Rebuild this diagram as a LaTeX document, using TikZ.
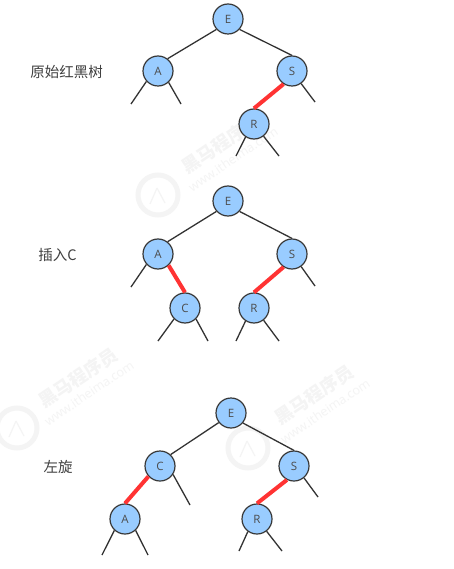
\documentclass[tikz,border=0pt]{standalone}
\usepackage{fontspec}
\newfontfamily\cjk{Noto Sans CJK SC}
\setmainfont{Open Sans}
\definecolor{nodeblue}{HTML}{99CCFF}
\definecolor{edgered}{HTML}{FF3333}
\definecolor{wm}{HTML}{F4F4F4}
\tikzset{
  tn/.style={circle,draw=black!78,line width=1.2pt,fill=nodeblue,minimum size=30pt,inner sep=0pt,font=\fontsize{11.5}{11.5}\selectfont,text=black!70},
  blk/.style={draw=black!80,line width=1.3pt},
  redge/.style={draw=edgered,line width=4pt},
  lbl/.style={font=\cjk\fontsize{14.5}{15}\selectfont,text=black!75,inner sep=0pt},
  wmtext/.style={font=\cjk\bfseries\fontsize{18}{18}\selectfont,text=wm,rotate=34,inner sep=0pt},
  wmurl/.style={font=\fontsize{12.5}{12.5}\selectfont,text=wm,rotate=34,inner sep=0pt},
  wmseal/.style={draw=wm,line width=5pt,circle,minimum size=40pt,inner sep=0pt},
  wmline/.style={draw=wm,line width=1.2pt}
}
\begin{document}
\begin{tikzpicture}[x=1pt,y=-1pt]
\useasboundingbox (0,0) rectangle (453,569);
\fill[white] (0,0) rectangle (453,569);
% watermarks
\node[wmseal] (s1) at (158,195) {};
\draw[wmline] (s1.center) ++(-1,-7) -- ++(-7,16) (s1.center) ++(-1,-7) -- ++(8,15);
\node[wmtext] (w1) at (221,144) {黑马程序员};
\node[wmurl] (u1) at (233,159) {www.itheima.com};
\node[wmseal] (s2) at (17,428) {};
\draw[wmline] (s2.center) ++(-1,-7) -- ++(-7,16) (s2.center) ++(-1,-7) -- ++(8,15);
\node[wmtext] (w2) at (78,378) {黑马程序员};
\node[wmurl] (u2) at (89,393) {www.itheima.com};
\node[wmseal] (s3) at (248,448) {};
\draw[wmline] (s3.center) ++(-1,-7) -- ++(-7,16) (s3.center) ++(-1,-7) -- ++(8,15);
\node[wmtext] (w3) at (314,395) {黑马程序员};
\node[wmurl] (u3) at (325,411) {www.itheima.com};
% tree 1
\node[tn] (e1) at (228,19) {E};
\node[tn] (a1) at (158,71) {A};
\node[tn] (s1n) at (292,71) {S};
\node[tn] (r1) at (254,124) {R};
\coordinate (l1a) at (131,104); \coordinate (l1b) at (181,104);
\coordinate (l1c) at (315,102); \coordinate (l1d) at (236,156); \coordinate (l1e) at (279,156);
\draw[blk] (e1.222) -- (a1.52); \draw[blk] (e1.318) -- (s1n.north);
\draw[redge] (s1n.237) -- (r1.north);
\draw[blk] (a1.222) -- (l1a); \draw[blk] (a1.313) -- (l1b); \draw[blk] (s1n.306) -- (l1c);
\draw[blk] (r1.237) -- (l1d); \draw[blk] (r1.308) -- (l1e);
\node[lbl] (t1) at (66.5,72) {原始红黑树};
% tree 2
\node[tn] (e2) at (228,201) {E};
\node[tn] (a2) at (158,254) {A};
\node[tn] (s2n) at (292,254) {S};
\node[tn] (c2) at (185,308) {C};
\node[tn] (r2) at (254,308) {R};
\coordinate (l2a) at (131,287); \coordinate (l2c) at (315,286);
\coordinate (l2d) at (158,341); \coordinate (l2e) at (208,341);
\coordinate (l2f) at (236,341); \coordinate (l2g) at (279,341);
\draw[blk] (e2.222) -- (a2.52); \draw[blk] (e2.318) -- (s2n.north);
\draw[redge] (a2.313) -- (c2.north); \draw[redge] (s2n.237) -- (r2.north);
\draw[blk] (a2.222) -- (l2a); \draw[blk] (s2n.306) -- (l2c);
\draw[blk] (c2.225) -- (l2d); \draw[blk] (c2.315) -- (l2e);
\draw[blk] (r2.237) -- (l2f); \draw[blk] (r2.308) -- (l2g);
\node[lbl] (t2) at (57.5,255) {插入C};
% tree 3
\node[tn] (e3) at (231,413) {E};
\node[tn] (c3) at (160,466) {C};
\node[tn] (s3n) at (294,466) {S};
\node[tn] (a3) at (125,519) {A};
\node[tn] (r3) at (257,519) {R};
\coordinate (l3b) at (190,505); \coordinate (l3c) at (318,497);
\coordinate (l3d) at (102,555); \coordinate (l3e) at (148,555);
\coordinate (l3f) at (239,551); \coordinate (l3g) at (282,551);
\draw[blk] (e3.218) -- (c3.47); \draw[blk] (e3.320) -- (s3n.north);
\draw[redge] (c3.222) -- (a3.north); \draw[redge] (s3n.243) -- (r3.north);
\draw[blk] (c3.327) -- (l3b); \draw[blk] (s3n.310) -- (l3c);
\draw[blk] (a3.227) -- (l3d); \draw[blk] (a3.313) -- (l3e);
\draw[blk] (r3.234) -- (l3f); \draw[blk] (r3.308) -- (l3g);
\node[lbl] (t3) at (58,467) {左旋};
\end{tikzpicture}
\end{document}
